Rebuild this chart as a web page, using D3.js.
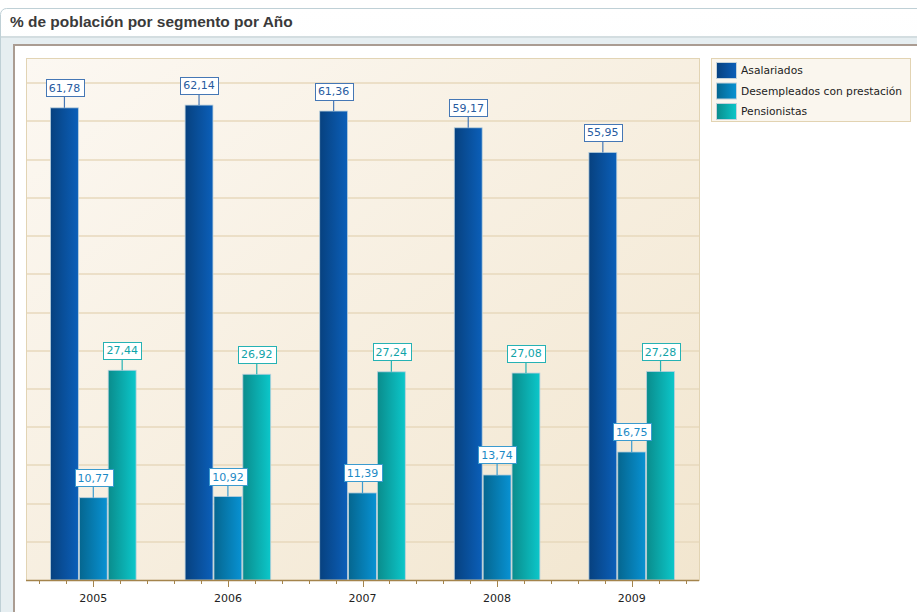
<!DOCTYPE html>
<html><head><meta charset="utf-8">
<script src="https://cdn.jsdelivr.net/npm/d3@7"></script>
<style>body{margin:0;background:#fff;}svg{display:block;}</style>
</head><body>
<svg id="c" width="917" height="612"></svg>
<script>
const years = ["2005","2006","2007","2008","2009"];
const seriesNames = ["Asalariados","Desempleados con prestación","Pensionistas"];
const asalariados = [61.78,62.14,61.36,59.17,55.95];
const desempleados = [10.77,10.92,11.39,13.74,16.75];
const pensionistas = [27.44,26.92,27.24,27.08,27.28];
const gridTicks = [5,10,15,20,25,30,35,40,45,50,55,60,65];
const titleText = "% de población por segmento por Año";

const seriesValues = [asalariados, desempleados, pensionistas];
const gradStops = [["#07417f","#0b5fb9"],["#05668f","#0892d3"],["#0a8c8c","#0cc7ca"]];
const labelText = ["#275b9f","#1b8ac6","#0fa3a8"];
const labelBorder = ["#4577b5","#3b9bcf","#25b2b4"];

const svg = d3.select("#c");
const defs = svg.append("defs");
gradStops.forEach((s,i)=>{
  const g = defs.append("linearGradient").attr("id","g"+i).attr("x1","0").attr("x2","1").attr("y1","0").attr("y2","0");
  g.append("stop").attr("offset","0").attr("stop-color",s[0]);
  g.append("stop").attr("offset","1").attr("stop-color",s[1]);
});
const pg = defs.append("linearGradient").attr("id","plotbg").attr("x1","0").attr("y1","0").attr("x2","1").attr("y2","1");
pg.append("stop").attr("offset","0").attr("stop-color","#fcf8f2");
pg.append("stop").attr("offset","1").attr("stop-color","#f2e6cf");
const hg = defs.append("linearGradient").attr("id","hdr").attr("x1","0").attr("y1","0").attr("x2","0").attr("y2","1");
hg.append("stop").attr("offset","0").attr("stop-color","#ffffff");
hg.append("stop").attr("offset","0.3").attr("stop-color","#fafbfb");
hg.append("stop").attr("offset","1").attr("stop-color","#f1f4f5");

// outer panel
svg.append("rect").attr("x",0.5).attr("y",8.5).attr("width",930).attr("height",620).attr("rx",6)
  .attr("fill","url(#hdr)").attr("stroke","#bfd0d6");
svg.append("rect").attr("x",1).attr("y",36).attr("width",916).attr("height",580).attr("fill","#e6eef1");
svg.append("rect").attr("x",1).attr("y",36).attr("width",916).attr("height",2).attr("fill","#d3dde0");
// chart control
svg.append("rect").attr("x",14).attr("y",45).attr("width",920).attr("height",580)
  .attr("fill","#ffffff").attr("stroke","#aa9c92").attr("stroke-width",2);

const title = svg.append("text").attr("x",10).attr("y",27).text(titleText)
  .attr("font-family","Liberation Sans, Arial, sans-serif").attr("font-weight","bold")
  .attr("font-size",14).attr("fill","#3a3a3a");
const tw0 = title.node().getComputedTextLength();
title.attr("font-size", 14*283/tw0);

const L = 26, R = 699, T = 58, B = 580;
const x0 = d3.scaleBand().domain(years).range([L,R]).padding(0);
const bw0 = x0.bandwidth();
const x1 = d3.scaleBand().domain(d3.range(3)).range([24, bw0-24]).padding(0);
const y = d3.scaleLinear().domain([0,68.3]).range([B,T]);

svg.append("rect").attr("x",L+0.5).attr("y",T+0.5).attr("width",R-L).attr("height",B-T)
  .attr("fill","url(#plotbg)").attr("stroke","#e2d4b4");

svg.append("g").selectAll("line").data(gridTicks).join("line")
  .attr("x1",L+1).attr("x2",R).attr("y1",d=>Math.round(y(d))).attr("y2",d=>Math.round(y(d)))
  .attr("stroke","#e7d9bc").attr("stroke-width",1.6);

// bars
const fmt = d3.formatLocale({decimal:",",thousands:".",grouping:[3],currency:["","€"]}).format(".2f");
const gBars = svg.append("g");
const gLab = svg.append("g");
years.forEach((yr,i)=>{
  seriesValues.forEach((vals,s)=>{
    const v = vals[i];
    const bx = x0(yr)+x1(s);
    const bw = x1.bandwidth();
    gBars.append("rect").attr("x",bx+0.5).attr("y",y(v)).attr("width",bw-1).attr("height",B-y(v))
      .attr("fill","url(#g"+s+")").attr("stroke","#b9cfdc").attr("stroke-width",0.8);
    const cx = bx+bw/2;
    const t = gLab.append("text").attr("x",cx).attr("y",y(v)-16).text(fmt(v))
      .attr("text-anchor","middle").attr("font-family","DejaVu Sans, sans-serif").attr("font-size",11)
      .attr("fill",labelText[s]);
    const tw = t.node().getComputedTextLength();
    const boxB = y(v)-11.5, boxH = 17;
    gLab.insert("line","text").attr("x1",cx).attr("x2",cx).attr("y1",boxB).attr("y2",y(v))
      .attr("stroke",labelBorder[s]).attr("stroke-width",1.2);
    gLab.insert("rect","text").attr("x",Math.round(cx-tw/2-3)+0.5).attr("y",Math.round(boxB-boxH)+0.5)
      .attr("width",Math.round(tw+6)).attr("height",boxH).attr("fill","#fff").attr("stroke",labelBorder[s]);
    t.attr("y",boxB-4.5);
  });
});

// x axis
const ax = svg.append("g");
ax.append("line").attr("x1",L).attr("x2",R).attr("y1",B+0.5).attr("y2",B+0.5).attr("stroke","#a4844c").attr("stroke-width",1.5);
const minor = [];
years.forEach(yr=>{ for(let k=-2;k<=2;k++){ if(k!==0) minor.push(x0(yr)+bw0/2+k*bw0/5); } });
ax.selectAll(".mn").data(minor).join("line").attr("class","mn")
  .attr("x1",d=>Math.round(d)+0.5).attr("x2",d=>Math.round(d)+0.5).attr("y1",B).attr("y2",B+4)
  .attr("stroke","#a4844c");
ax.selectAll(".mj").data(years).join("line").attr("class","mj")
  .attr("x1",d=>Math.round(x0(d)+bw0/2)+0.5).attr("x2",d=>Math.round(x0(d)+bw0/2)+0.5).attr("y1",B).attr("y2",B+7)
  .attr("stroke","#a4844c");
ax.selectAll("text").data(years).join("text")
  .attr("x",d=>x0(d)+bw0/2).attr("y",B+22).attr("text-anchor","middle").text(d=>d)
  .attr("font-family","DejaVu Sans, sans-serif").attr("font-size",11).attr("fill","#222");

// legend
const lg = svg.append("g");
lg.append("rect").attr("x",711.5).attr("y",58.5).attr("width",199).attr("height",63)
  .attr("fill","#faf6ee").attr("stroke","#e2d3b2");
seriesNames.forEach((n,s)=>{
  const yy = 62 + s*20.5;
  lg.append("rect").attr("x",716.5).attr("y",yy+0.5).attr("width",20).attr("height",16)
    .attr("fill","url(#g"+s+")").attr("stroke","#c4d2da");
  lg.append("text").attr("x",741).attr("y",yy+12).text(n)
    .attr("font-family","DejaVu Sans, sans-serif").attr("font-size",10.7).attr("fill","#222");
});
</script>
</body></html>
